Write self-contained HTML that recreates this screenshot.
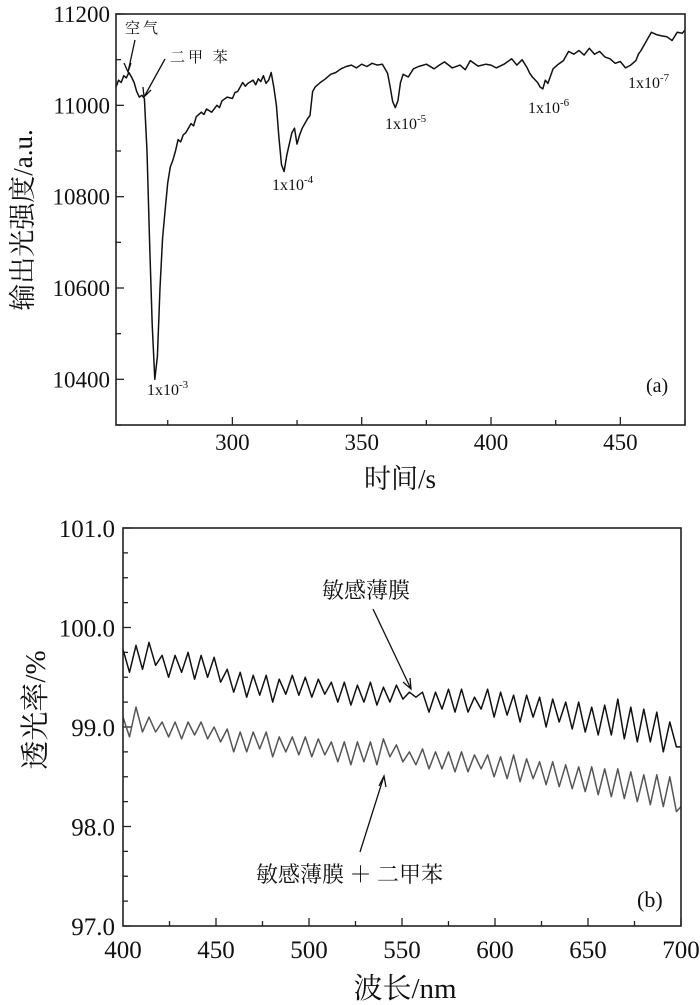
<!DOCTYPE html>
<html><head><meta charset="utf-8"><style>
html,body{margin:0;padding:0;background:#fff;}
svg{display:block;}
text{font-family:"Liberation Serif","Noto Serif CJK SC","Noto Sans CJK SC",serif;fill:#111;}
</style></head><body>
<svg id="fig" width="700" height="1005" viewBox="0 0 700 1005" xmlns="http://www.w3.org/2000/svg">
<g id="chartA"></g>
<g id="chartB"></g>
</svg>
<script>
// ---------- Chart (a) data ----------
const timeA = [255,256,257,258,259,260,261,262,263,264,265,266,267,268,269,270,271,272,273,274,275,276,277,278,279,280,281,282,284,285,286,288,289,290,292,294,295,296,298,300,301,302,304,305,306,308,309,310,311,312,313,314,315,316,317,318,319,320,321,322,323,324,325,326,327,328,329,330,331,332,334,336,338,340,342,344,346,348,350,352,354,356,358,359,360,361,362,363,364,365,366,368,370,372,375,378,380,382,385,388,390,392,395,398,400,402,405,408,410,412,414,415,416,418,419,420,421,422,424,426,428,430,432,434,436,438,440,442,444,446,448,450,452,454,456,457,458,460,462,464,466,468,470,472,474,475];
const intensityA = [11040,11055,11050,11065,11060,11072,11062,11050,11030,11018,11022,11015,10900,10700,10520,10400,10450,10600,10710,10770,10830,10865,10880,10900,10925,10920,10935,10940,10960,10955,10975,10985,10980,10992,10985,11000,10995,11010,11018,11015,11028,11030,11050,11042,11048,11055,11045,11058,11052,11065,11048,11055,11072,11040,11000,10930,10870,10855,10890,10915,10940,10950,10915,10935,10950,10960,10970,10978,11030,11040,11050,11058,11068,11072,11080,11085,11088,11082,11090,11085,11092,11088,11090,11080,11070,11040,11008,10995,11010,11050,11068,11062,11080,11085,11090,11080,11088,11095,11082,11088,11078,11098,11086,11090,11088,11082,11090,11102,11088,11100,11082,11070,11062,11050,11040,11036,11055,11048,11080,11090,11098,11118,11112,11120,11110,11125,11112,11118,11106,11102,11092,11096,11082,11088,11098,11112,11120,11140,11160,11155,11152,11150,11142,11160,11158,11165];
const yTicksA = [10400,10600,10800,11000,11200];
const xTicksA = [300,350,400,450];
const peakLabelsA = ["1x10","1x10","1x10","1x10","1x10"];
const peakExpA = ["-3","-4","-5","-6","-7"];
const peakTimeA = [270,320,363,420,457];
const peakValA = [10400,10855,10995,11036,11082];

// ---------- Chart (b) data ----------
const wavelengthB = [400,403.5,407,410.5,414,417.5,421,424.5,428,431.5,435,438.5,442,445.5,449,452.5,456,459.5,463,466.5,470,473.5,477,480.5,484,487.5,491,494.5,498,501.5,505,508.5,512,515.5,519,522.5,526,529.5,533,536.5,540,543.5,547,550.5,554,557.5,561,564.5,568,571.5,575,578.5,582,585.5,589,592.5,596,599.5,603,606.5,610,613.5,617,620.5,624,627.5,631,634.5,638,641.5,645,648.5,652,655.5,659,662.5,666,669.5,673,676.5,680,683.5,687,690.5,694,697.5,700];
const filmB = [99.78,99.55,99.82,99.58,99.85,99.62,99.72,99.50,99.72,99.55,99.75,99.48,99.72,99.50,99.70,99.45,99.58,99.35,99.55,99.30,99.52,99.32,99.52,99.25,99.48,99.33,99.52,99.32,99.50,99.30,99.48,99.33,99.45,99.25,99.45,99.22,99.42,99.25,99.45,99.22,99.40,99.25,99.42,99.28,99.35,99.30,99.35,99.15,99.35,99.18,99.38,99.15,99.38,99.15,99.30,99.18,99.38,99.10,99.35,99.12,99.32,99.05,99.32,99.10,99.30,99.00,99.28,99.05,99.25,98.98,99.25,98.95,99.20,98.92,99.22,98.92,99.28,98.88,99.20,98.85,99.18,98.85,99.15,98.75,99.05,98.80,98.80];
const filmXyleneB = [99.10,98.90,99.20,98.95,99.10,98.95,99.05,98.90,99.05,98.88,99.05,98.92,99.05,98.88,99.00,98.85,98.98,98.75,98.95,98.75,98.95,98.78,98.95,98.70,98.90,98.75,98.90,98.72,98.90,98.70,98.88,98.72,98.85,98.65,98.85,98.62,98.85,98.65,98.85,98.62,98.88,98.70,98.82,98.65,98.75,98.62,98.78,98.58,98.75,98.58,98.75,98.55,98.75,98.55,98.72,98.58,98.72,98.50,98.70,98.48,98.72,98.45,98.68,98.48,98.65,98.42,98.65,98.40,98.62,98.38,98.60,98.35,98.60,98.32,98.58,98.30,98.58,98.28,98.55,98.25,98.52,98.22,98.52,98.20,98.50,98.15,98.20];
const yTicksB = [97.0,98.0,99.0,100.0,101.0];
const xTicksB = [400,450,500,550,600,650,700];

const NS = "http://www.w3.org/2000/svg";
function mk(parent, tag, attrs, txt){
  const e = document.createElementNS(NS, tag);
  for (const k in attrs) e.setAttribute(k, attrs[k]);
  if (txt !== undefined) e.textContent = txt;
  parent.appendChild(e);
  return e;
}

// ===== Chart A =====
(function(){
  const g = document.getElementById('chartA');
  const L=116,R=685,T=14,B=425, xmin=255,xmax=475, ymin=10300,ymax=11200;
  const sx = v => L + (v-xmin)/(xmax-xmin)*(R-L);
  const sy = v => B - (v-ymin)/(ymax-ymin)*(B-T);
  for (let v=10300; v<=11200; v+=100){
    const major = yTicksA.includes(v);
    const t = mk(g,'line',{x1:L,x2:L+(major?8:5),y1:sy(v),y2:sy(v),stroke:'#222','stroke-width':1.3});
    
    
  }
  for (let v=275; v<=475; v+=25){
    const major = xTicksA.includes(v);
    const t = mk(g,'line',{x1:sx(v),x2:sx(v),y1:B,y2:B-(major?8:5),stroke:'#222','stroke-width':1.3});
    
    
  }
  yTicksA.forEach(v=>{
    const t = mk(g,'text',{x:L-6,y:sy(v)+8,'text-anchor':'end','font-size':23},String(v));
    
    
  });
  xTicksA.forEach(v=>{
    const t = mk(g,'text',{x:sx(v),y:B+25,'text-anchor':'middle','font-size':23},String(v));
    
    
  });
  let d='';
  timeA.forEach((t,i)=>{ d += (i?'L':'M') + sx(t).toFixed(1)+','+sy(intensityA[i]).toFixed(1); });
  const p = mk(g,'path',{d:d,fill:'none',stroke:'#111','stroke-width':1.5,'stroke-linejoin':'round'});
  
  
  const f = mk(g,'rect',{x:L,y:T,width:R-L,height:B-T,fill:'none',stroke:'#222','stroke-width':1.6});
  
  
  const lblPos = [[147,395],[272,190],[385,129],[528,113],[628,88]];
  peakLabelsA.forEach((s,i)=>{
    const t = mk(g,'text',{x:lblPos[i][0],y:lblPos[i][1],'font-size':16});
    
    
    mk(t,'tspan',{},s);
    mk(t,'tspan',{dy:-7,'font-size':11},peakExpA[i]);
  });
  const a1 = mk(g,'text',{x:125,y:33,'font-size':15,'letter-spacing':'3'},'空气');
  
  
  const a2 = mk(g,'text',{x:170,y:62,'font-size':15,'letter-spacing':'3'},'二甲 苯');
  
  
  const ar1 = mk(g,'path',{d:'M135,40 L128,72 M124,63 L128,72 L131,63',fill:'none',stroke:'#111','stroke-width':1.3});
  
  
  const ar2 = mk(g,'path',{d:'M165,59 L144,97 M143,87 L144,97 L151,90',fill:'none',stroke:'#111','stroke-width':1.3});
  
  
  const pa = mk(g,'text',{x:646,y:392,'font-size':20},'(a)');
  
  
  const xt = mk(g,'text',{x:400,y:488,'text-anchor':'middle','font-size':27},'时间/s');
  
  
  const yt = mk(g,'text',{x:0,y:0,'text-anchor':'middle','font-size':27,transform:'translate(32,220) rotate(-90)'},'输出光强度/a.u.');
  
  
})();

// ===== Chart B =====
(function(){
  const g = document.getElementById('chartB');
  const L=123,R=681,T=528,B=926, xmin=400,xmax=700, ymin=97,ymax=101;
  const sx = v => L + (v-xmin)/(xmax-xmin)*(R-L);
  const sy = v => B - (v-ymin)/(ymax-ymin)*(B-T);
  for (let k=0;k<=16;k++){
    const v = 97 + k*0.25;
    const major = (k%4===0);
    const t = mk(g,'line',{x1:L,x2:L+(major?8:5),y1:sy(v),y2:sy(v),stroke:'#222','stroke-width':1.3});
    
    
  }
  for (let v=425; v<=700; v+=25){
    const major = xTicksB.includes(v);
    const t = mk(g,'line',{x1:sx(v),x2:sx(v),y1:B,y2:B-(major?8:5),stroke:'#222','stroke-width':1.3});
    
    
  }
  yTicksB.forEach(v=>{
    const t = mk(g,'text',{x:L-8,y:sy(v)+9,'text-anchor':'end','font-size':25},v.toFixed(1));
    
    
  });
  xTicksB.forEach(v=>{
    const t = mk(g,'text',{x:sx(v),y:B+32,'text-anchor':'middle','font-size':25},String(v));
    
    
  });
  function line(vals, color, name){
    let d='';
    wavelengthB.forEach((w,i)=>{ d += (i?'L':'M') + sx(w).toFixed(1)+','+sy(vals[i]).toFixed(1); });
    const p = mk(g,'path',{d:d,fill:'none',stroke:color,'stroke-width':1.5,'stroke-linejoin':'round'});
    
    
  }
  line(filmB,'#111','film-line');
  line(filmXyleneB,'#555','film-xylene-line');
  const f = mk(g,'rect',{x:L,y:T,width:R-L,height:B-T,fill:'none',stroke:'#222','stroke-width':1.6});
  
  
  const l1 = mk(g,'text',{x:322,y:598,'font-size':22},'敏感薄膜');
  
  
  const l2 = mk(g,'text',{x:256,y:882,'font-size':22},'敏感薄膜 ＋ 二甲苯');
  
  
  const ar1 = mk(g,'path',{d:'M373,609 L411,689 M403,682 L411,689 L410,678',fill:'none',stroke:'#111','stroke-width':1.3});
  
  
  const ar2 = mk(g,'path',{d:'M360,852 L384,776 M379,786 L384,776 L386,787',fill:'none',stroke:'#111','stroke-width':1.3});
  
  
  const pb = mk(g,'text',{x:637,y:907,'font-size':22},'(b)');
  
  
  const xt = mk(g,'text',{x:405,y:998,'text-anchor':'middle','font-size':29},'波长/nm');
  
  
  const yt = mk(g,'text',{x:0,y:0,'text-anchor':'middle','font-size':29,transform:'translate(45,710) rotate(-90)'},'透光率/%');
  
  
})();
</script>
</body></html>
